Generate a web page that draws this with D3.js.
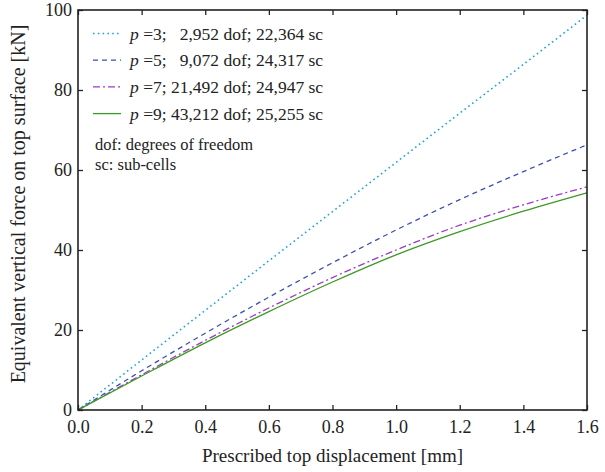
<!DOCTYPE html>
<html>
<head>
<meta charset="utf-8">
<script src="https://cdn.jsdelivr.net/npm/d3@7"></script>
<style>
  body { margin: 0; background: #fff; }
  svg, svg text { font-family: "Liberation Serif", "Times New Roman", serif; }
</style>
</head>
<body>
<div id="chart"></div>
<script>
// displacement [mm]
const disp = [0, 0.2, 0.4, 0.6, 0.8, 1.0, 1.2, 1.4, 1.6];
// force [kN] per order p
const forceP3 = [0, 12.5, 24.9, 37.3, 49.6, 61.9, 74.2, 86.4, 98.7];
const forceP5 = [0, 9.8, 19.2, 28.2, 36.8, 45.0, 52.6, 59.6, 66.3];
const forceP7 = [0, 8.8, 17.4, 25.5, 33.1, 40.0, 46.2, 51.3, 55.8];
const forceP9 = [0, 8.5, 16.8, 24.6, 32.0, 38.8, 44.6, 49.7, 54.3];

const seriesNames = ['p3', 'p5', 'p7', 'p9'];
const legendDofs = ['3;   2,952 dof; 22,364 sc', '5;   9,072 dof; 24,317 sc', '7; 21,492 dof; 24,947 sc', '9; 43,212 dof; 25,255 sc'];
const xTicks = [0, 0.2, 0.4, 0.6, 0.8, 1.0, 1.2, 1.4, 1.6];
const yTicks = [0, 20, 40, 60, 80, 100];

const width = 605;
const height = 472;
const margin = { top: 10, right: 18, bottom: 62, left: 78 };

const usableArea = {
  top: margin.top,
  right: width - margin.right,
  bottom: height - margin.bottom,
  left: margin.left,
};

const xScale = d3.scaleLinear().domain([0, 1.6]).range([usableArea.left, usableArea.right]);
const yScale = d3.scaleLinear().domain([0, 100]).range([usableArea.bottom, usableArea.top]);

const styles = {
  p3: { color: '#1ba6d4', dash: '1.6,3.2', width: 1.6 },
  p5: { color: '#3d4fae', dash: '5,4', width: 1.3 },
  p7: { color: '#9a3cc4', dash: '7,3,2,3', width: 1.3 },
  p9: { color: '#3c9a22', dash: null, width: 1.3 },
};

const series = [forceP3, forceP5, forceP7, forceP9].map((vals, i) => ({
  name: seriesNames[i],
  points: disp.map((d, j) => ({ x: d, y: vals[j] })),
}));

const svg = d3.select('#chart')
  .append('svg')
  .attr('width', width)
  .attr('height', height);

// curves
const line = d3.line()
  .x((d) => xScale(d.x))
  .y((d) => yScale(d.y))
  .curve(d3.curveMonotoneX);

svg.append('g')
  .selectAll('path')
  .data(series)
  .join('path')
  .attr('d', (d) => line(d.points))
  .attr('fill', 'none')
  .attr('stroke', (d) => styles[d.name].color)
  .attr('stroke-width', (d) => styles[d.name].width)
  .attr('stroke-dasharray', (d) => styles[d.name].dash);

// axes: ticks pointing inward on all four sides
function styleAxis(g) {
  g.attr('font-family', null).attr('font-size', null);
  g.select('.domain').remove();
  g.selectAll('.tick line').attr('stroke', '#222').attr('stroke-width', 1.3);
  g.selectAll('.tick text').attr('fill', '#222').style('font-size', '18px');
}

svg.append('g')
  .attr('transform', `translate(0, ${usableArea.bottom})`)
  .call(d3.axisBottom(xScale).tickValues(xTicks).tickSize(-5).tickPadding(10).tickFormat(d3.format('.1f')))
  .call(styleAxis);

svg.append('g')
  .attr('transform', `translate(0, ${usableArea.top})`)
  .call(d3.axisTop(xScale).tickValues(xTicks).tickSize(-5).tickFormat(''))
  .call(styleAxis);

svg.append('g')
  .attr('transform', `translate(${usableArea.left}, 0)`)
  .call(d3.axisLeft(yScale).tickValues(yTicks).tickSize(-5).tickPadding(6))
  .call(styleAxis);

svg.append('g')
  .attr('transform', `translate(${usableArea.right}, 0)`)
  .call(d3.axisRight(yScale).tickValues(yTicks).tickSize(-5).tickFormat(''))
  .call(styleAxis);

// frame
svg.append('rect')
  .attr('x', usableArea.left)
  .attr('y', usableArea.top)
  .attr('width', usableArea.right - usableArea.left)
  .attr('height', usableArea.bottom - usableArea.top)
  .attr('fill', 'none')
  .attr('stroke', '#222')
  .attr('stroke-width', 1.6);

// axis titles
svg.append('text')
  .attr('x', (usableArea.left + usableArea.right) / 2)
  .attr('y', 462)
  .attr('text-anchor', 'middle')
  .style('font-size', '19px')
  .attr('fill', '#222')
  .text('Prescribed top displacement [mm]');

svg.append('text')
  .attr('transform', `translate(25, 204) rotate(-90)`)
  .attr('text-anchor', 'middle')
  .style('font-size', '20px')
  .attr('fill', '#222')
  .text('Equivalent vertical force on top surface [kN]');

// legend
const legend = svg.append('g').attr('class', 'legend');
series.forEach((s, i) => {
  const y = 33.5 + i * 26.7;
  legend.append('line')
    .attr('x1', 93).attr('x2', 121)
    .attr('y1', y).attr('y2', y)
    .attr('stroke', styles[s.name].color)
    .attr('stroke-width', styles[s.name].width)
    .attr('stroke-dasharray', styles[s.name].dash);
  const t = legend.append('text')
    .attr('x', 130)
    .attr('y', y + 6)
    .style('font-size', '17.5px')
    .attr('fill', '#222')
    .style('white-space', 'pre');
  t.append('tspan').style('font-style', 'italic').text('p');
  t.append('tspan').text(' =' + legendDofs[i]);
});

legend.append('text')
  .attr('x', 95).attr('y', 150)
  .style('font-size', '16.5px')
  .attr('fill', '#222')
  .text('dof: degrees of freedom');
legend.append('text')
  .attr('x', 95).attr('y', 170)
  .style('font-size', '16.5px')
  .attr('fill', '#222')
  .text('sc: sub-cells');
</script>
</body>
</html>
